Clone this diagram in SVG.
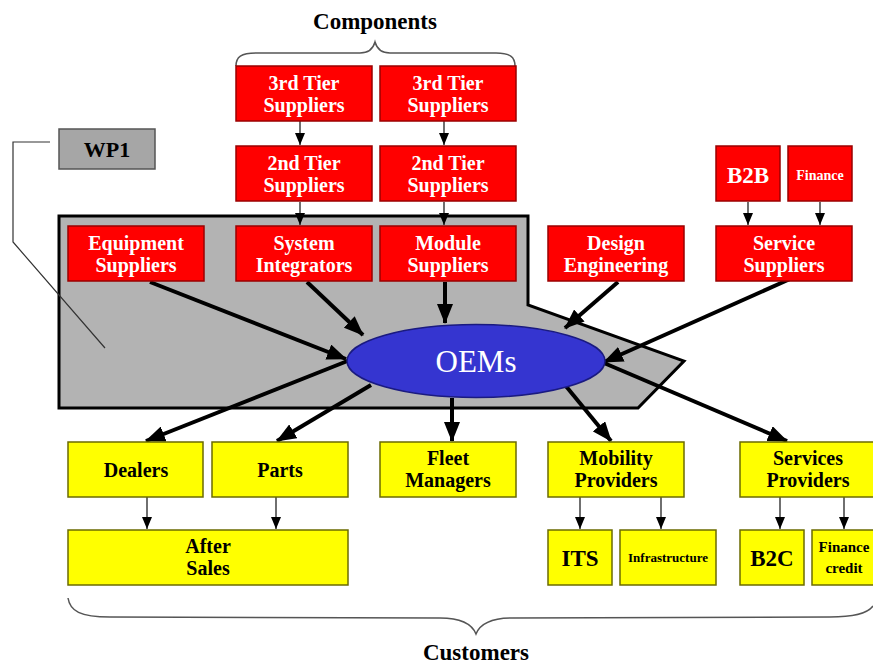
<svg xmlns="http://www.w3.org/2000/svg" width="873" height="664" viewBox="0 0 873 664">
<style>
  text { font-family: "Liberation Serif", "Times New Roman", serif; font-weight: bold; text-anchor: middle; }
  .red rect { fill: #ff0000; stroke: #9a0000; stroke-width: 1.5; }
  .red text { fill: #ffffff; font-size: 20px; }
  .yel rect { fill: #ffff00; stroke: #6b6b00; stroke-width: 1.5; }
  .yel text { fill: #000000; font-size: 20px; }
  .thick { stroke: #000; stroke-width: 4; fill: none; marker-end: url(#big); }
  .thin { stroke: #222; stroke-width: 1.3; fill: none; marker-end: url(#small); }
  .brace { stroke: #555; stroke-width: 1.5; fill: none; }
</style>
<defs>
  <marker id="big" markerUnits="userSpaceOnUse" markerWidth="20" markerHeight="16" refX="19" refY="8" orient="auto">
    <path d="M0,0 L20,8 L0,16 z" fill="#000"/>
  </marker>
  <marker id="small" markerUnits="userSpaceOnUse" markerWidth="12" markerHeight="10" refX="12" refY="5" orient="auto">
    <path d="M0,0 L12,5 L0,10 z" fill="#000"/>
  </marker>
</defs>
<rect width="873" height="664" fill="#fff"/>

<!-- gray region and WP1 callout -->
<g id="region">
  <polygon points="59,216 528,216 528,305 684,361 638,408 59,408" fill="#b3b3b3" stroke="#000" stroke-width="3"/>
</g>
<g id="wp1">
  <polyline points="50,142 13,142 13,242 105,348" fill="none" stroke="#333" stroke-width="1.2"/>
  <rect x="59" y="129" width="96" height="40" fill="#a6a6a6" stroke="#555" stroke-width="1.5"/>
  <text x="107" y="157" font-size="22" fill="#000">WP1</text>
</g>

<!-- braces and labels -->
<g id="components">
  <path class="brace" d="M236,66 C236,57 241,53 256,53 L360,53 C369,53 373,49 375,42 C377,49 381,53 390,53 L496,53 C510,53 515,57 515,66"/>
  <text x="375" y="29" font-size="23" fill="#000">Components</text>
</g>
<g id="customers">
  <path class="brace" d="M68,598 C70,611 80,617 110,617 L440,618 C462,618 472,624 476,634 C480,624 490,618 512,618 L830,617 C855,617 868,613 873,606"/>
  <text x="476" y="660" font-size="23" fill="#000">Customers</text>
</g>

<!-- connectors -->
<g id="connectors">
  <line class="thin" x1="300" y1="121" x2="300" y2="145"/>
  <line class="thin" x1="444" y1="121" x2="444" y2="145"/>
  <line class="thin" x1="300" y1="202" x2="300" y2="225"/>
  <line class="thin" x1="444" y1="202" x2="444" y2="225"/>
  <line class="thin" x1="748" y1="202" x2="748" y2="225"/>
  <line class="thin" x1="820" y1="202" x2="820" y2="225"/>

  <line class="thick" x1="150" y1="282" x2="346" y2="359"/>
  <line class="thick" x1="307" y1="282" x2="363" y2="335"/>
  <line class="thick" x1="445" y1="282" x2="445" y2="323"/>
  <line class="thick" x1="618" y1="282" x2="565" y2="328"/>
  <line class="thick" x1="790" y1="279" x2="604" y2="362"/>

  <line class="thick" x1="350" y1="360" x2="146" y2="441"/>
  <line class="thick" x1="371" y1="385" x2="277" y2="441"/>
  <line class="thick" x1="452" y1="398" x2="452" y2="441"/>
  <line class="thick" x1="565" y1="385" x2="611" y2="441"/>
  <line class="thick" x1="604" y1="363" x2="787" y2="441"/>

  <line class="thin" x1="147" y1="497" x2="147" y2="529"/>
  <line class="thin" x1="276" y1="497" x2="276" y2="529"/>
  <line class="thin" x1="580" y1="497" x2="580" y2="529"/>
  <line class="thin" x1="661" y1="497" x2="661" y2="529"/>
  <line class="thin" x1="780" y1="497" x2="780" y2="529"/>
  <line class="thin" x1="844" y1="497" x2="844" y2="529"/>
</g>

<!-- red supplier nodes -->
<g id="tier3a" class="red"><rect x="236" y="66" width="136" height="55"/><text x="304" y="90">3rd Tier</text><text x="304" y="112">Suppliers</text></g>
<g id="tier3b" class="red"><rect x="380" y="66" width="136" height="55"/><text x="448" y="90">3rd Tier</text><text x="448" y="112">Suppliers</text></g>
<g id="tier2a" class="red"><rect x="236" y="146" width="136" height="55"/><text x="304" y="170">2nd Tier</text><text x="304" y="192">Suppliers</text></g>
<g id="tier2b" class="red"><rect x="380" y="146" width="136" height="55"/><text x="448" y="170">2nd Tier</text><text x="448" y="192">Suppliers</text></g>
<g id="b2b" class="red"><rect x="716" y="146" width="64" height="55"/><text x="748" y="183" style="font-size:23px">B2B</text></g>
<g id="finance" class="red"><rect x="788" y="146" width="64" height="55"/><text x="820" y="180" style="font-size:14px">Finance</text></g>
<g id="equipment" class="red"><rect x="68" y="226" width="136" height="55"/><text x="136" y="250">Equipment</text><text x="136" y="272">Suppliers</text></g>
<g id="system" class="red"><rect x="236" y="226" width="136" height="55"/><text x="304" y="250">System</text><text x="304" y="272">Integrators</text></g>
<g id="module" class="red"><rect x="380" y="226" width="136" height="55"/><text x="448" y="250">Module</text><text x="448" y="272">Suppliers</text></g>
<g id="design" class="red"><rect x="548" y="226" width="136" height="55"/><text x="616" y="250">Design</text><text x="616" y="272">Engineering</text></g>
<g id="service" class="red"><rect x="716" y="226" width="136" height="55"/><text x="784" y="250">Service</text><text x="784" y="272">Suppliers</text></g>

<!-- OEMs -->
<g id="oems">
  <ellipse cx="476" cy="361" rx="129" ry="36.5" fill="#3535d0" stroke="#1a1a80" stroke-width="1.5"/>
  <text x="476" y="372" font-size="31" fill="#fff" style="font-weight:normal">OEMs</text>
</g>

<!-- yellow customer nodes -->
<g id="dealers" class="yel"><rect x="68" y="442" width="135" height="55"/><text x="136" y="477">Dealers</text></g>
<g id="parts" class="yel"><rect x="212" y="442" width="136" height="55"/><text x="280" y="477">Parts</text></g>
<g id="fleet" class="yel"><rect x="380" y="442" width="136" height="55"/><text x="448" y="465">Fleet</text><text x="448" y="487">Managers</text></g>
<g id="mobility" class="yel"><rect x="548" y="442" width="136" height="55"/><text x="616" y="465">Mobility</text><text x="616" y="487">Providers</text></g>
<g id="services" class="yel"><rect x="740" y="442" width="136" height="55"/><text x="808" y="465">Services</text><text x="808" y="487">Providers</text></g>
<g id="aftersales" class="yel"><rect x="68" y="530" width="280" height="55"/><text x="208" y="553">After</text><text x="208" y="575">Sales</text></g>
<g id="its" class="yel"><rect x="548" y="530" width="64" height="55"/><text x="580" y="566" style="font-size:23px">ITS</text></g>
<g id="infra" class="yel"><rect x="620" y="530" width="96" height="55"/><text x="668" y="562" style="font-size:13px">Infrastructure</text></g>
<g id="b2c" class="yel"><rect x="740" y="530" width="64" height="55"/><text x="772" y="566" style="font-size:23px">B2C</text></g>
<g id="fincredit" class="yel"><rect x="812" y="530" width="64" height="55"/><text x="844" y="552" style="font-size:15px">Finance</text><text x="844" y="573" style="font-size:15px">credit</text></g>
</svg>
